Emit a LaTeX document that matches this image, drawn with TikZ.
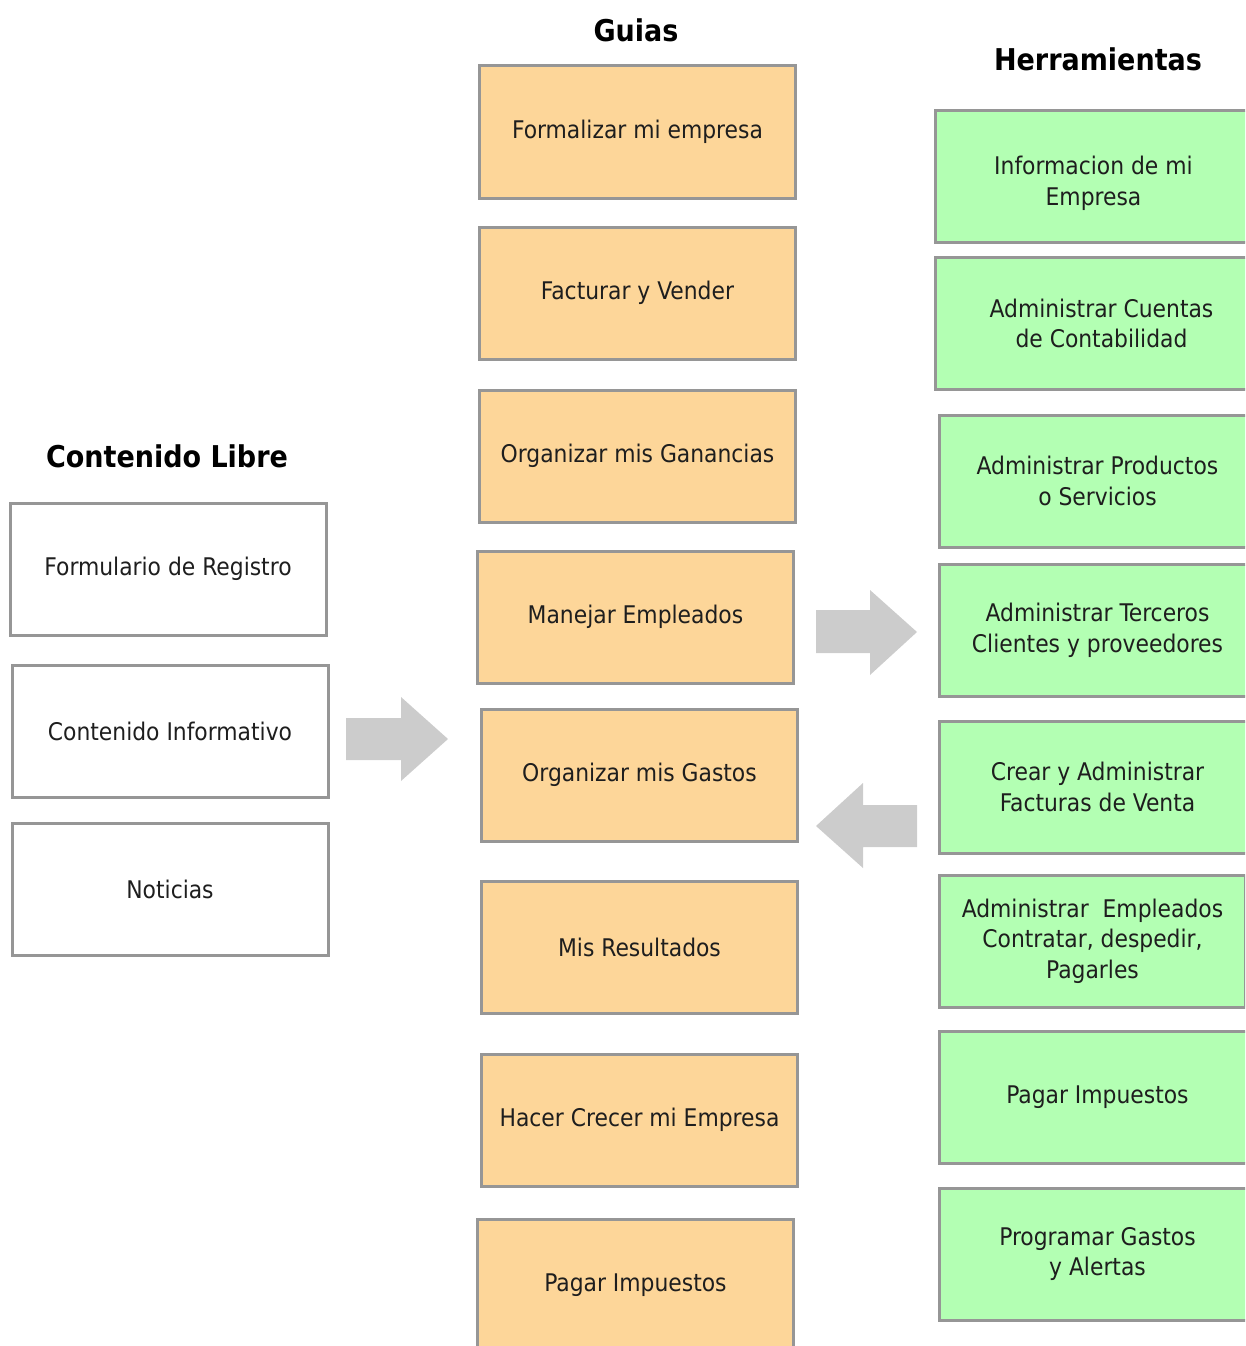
\documentclass[tikz,border=0pt]{standalone}
\usepackage{fontspec}
\setmainfont{DejaVu Sans Condensed}
\definecolor{orangefill}{RGB}{253,214,153}
\definecolor{greenfill}{RGB}{179,255,179}
\definecolor{boxborder}{RGB}{150,150,150}
\definecolor{arrowgray}{RGB}{204,204,204}
\definecolor{txt}{RGB}{30,30,30}
\begin{document}
\begin{tikzpicture}[x=1pt,y=-1pt,
  boxtext/.style={align=center, inner sep=0pt, text=txt, font=\fontsize{24.3}{30.5}\selectfont},
  basebox/.style={draw=boxborder, line width=3pt, minimum width=316pt, minimum height=132pt, boxtext},
  whitebox/.style={basebox, fill=white},
  guidebox/.style={basebox, fill=orangefill},
  toolbox/.style={basebox, fill=greenfill},
  header/.style={font=\fontsize{30}{36}\selectfont\bfseries, text=black, inner sep=0pt},
  blockarrow/.style={fill=arrowgray, draw=none}]
\useasboundingbox (0,0) rectangle (1245,1346);
\clip (0,0) rectangle (1245,1346);

% headers
\node[header] (hguias) at (636,30) {Guias};
\node[header] (hherr) at (1098,59) {Herramientas};
\node[header] (hlibre) at (167,456) {Contenido Libre};

% left column
\node[whitebox] (reg) at (168,569) {Formulario de Registro};
\node[whitebox] (info) at (170,731) {Contenido Informativo};
\node[whitebox] (noti) at (170,889) {Noticias};

% middle column
\node[guidebox] (g1) at (637.5,132) {Formalizar mi empresa};
\node[guidebox] (g2) at (637.5,293) {Facturar y Vender};
\node[guidebox] (g3) at (637.5,456) {Organizar mis Ganancias};
\node[guidebox] (g4) at (635.5,617) {Manejar Empleados};
\node[guidebox] (g5) at (639.5,775) {Organizar mis Gastos};
\node[guidebox] (g6) at (639.5,947) {Mis Resultados};
\node[guidebox] (g7) at (639.5,1120) {Hacer Crecer mi Empresa};
\node[guidebox] (g8) at (635.5,1285) {Pagar Impuestos};

% right column
\node[toolbox, label={[boxtext, yshift=-7pt]center:Informacion de mi\\Empresa}] (h1) at (1093.5,176.5) {};
\node[toolbox, minimum width=332pt] (h2) at (1101.5,323.5) {Administrar Cuentas\\de Contabilidad};
\node[toolbox] (h3) at (1097.5,481) {Administrar Productos\\o Servicios};
\node[toolbox] (h4) at (1097.5,630.5) {Administrar Terceros\\Clientes y proveedores};
\node[toolbox] (h5) at (1097.5,787) {Crear y Administrar\\Facturas de Venta};
\node[toolbox, minimum width=306pt] (h6) at (1092.5,941) {Administrar\ \ Empleados\\Contratar, despedir,\\Pagarles};
\node[toolbox] (h7) at (1097.5,1097) {Pagar Impuestos};
\node[toolbox] (h8) at (1097.5,1254) {Programar Gastos\\y Alertas};

% block arrows
\fill[blockarrow] (346,718) -- (401,718) -- (401,697) -- (448,739) -- (401,781) -- (401,760) -- (346,760) -- cycle;
\fill[blockarrow] (816,610) -- (870,610) -- (870,590) -- (917,632) -- (870,675) -- (870,653) -- (816,653) -- cycle;
\fill[blockarrow] (917,805) -- (863,805) -- (863,783) -- (816,826) -- (863,868) -- (863,847) -- (917,847) -- cycle;
\end{tikzpicture}
\end{document}
